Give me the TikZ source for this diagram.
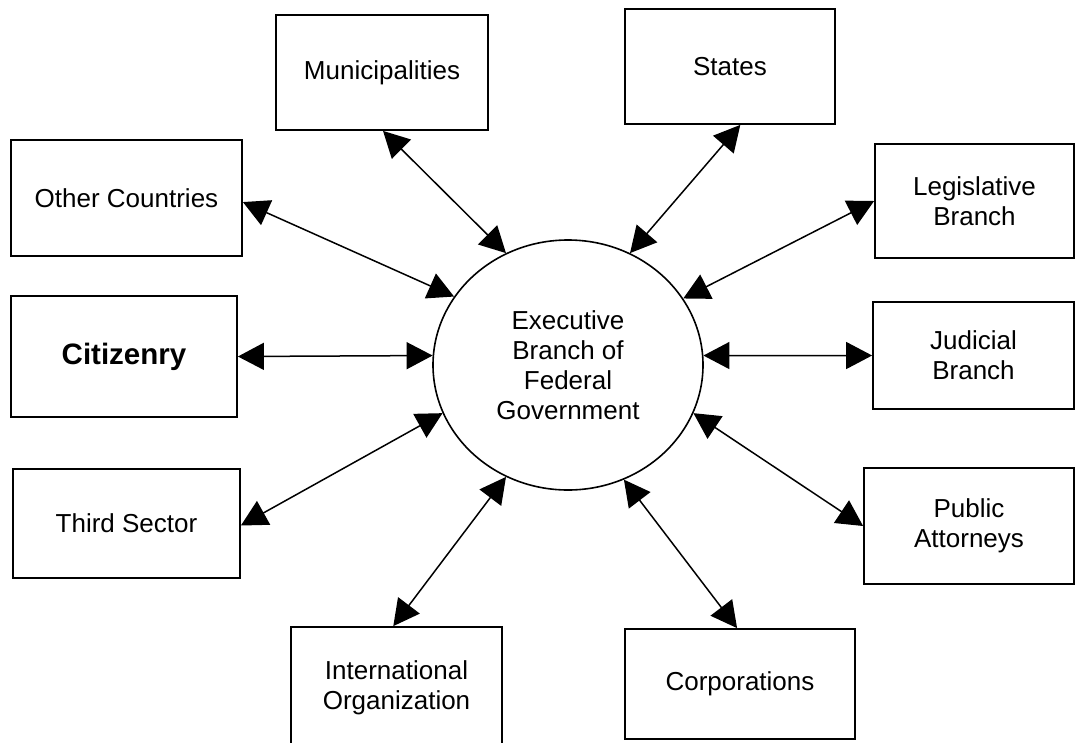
\documentclass[tikz,border=0pt]{standalone}
\usepackage{fontspec}
\setmainfont{Liberation Sans}
\usetikzlibrary{arrows.meta,shapes.geometric}
\begin{document}
\begin{tikzpicture}[x=1pt,y=-1pt,
  txt/.style={font=\fontsize{26pt}{30pt}\selectfont},
  box/.style={draw, line width=1.8pt, rectangle, inner sep=0pt, align=center, txt},
  center/.style={draw, ellipse, line width=1.6pt, inner sep=0pt, align=center, txt},
  conn/.style={line width=1.5pt, {Triangle[length=26pt,width=27pt]}-{Triangle[length=26pt,width=27pt]}}]
\useasboundingbox (0,0) rectangle (1075,742);
\clip (0,0) rectangle (1075,742);
\node[center, minimum width=270pt, minimum height=250pt] (exec) at (568,365) {Executive\\Branch of\\Federal\\Government};
\node[box, minimum width=212pt, minimum height=115pt] (muni) at (382,72.5) {Municipalities};
\node[box, minimum width=210pt, minimum height=115pt] (states) at (730,66.5) {States};
\node[box, minimum width=231pt, minimum height=116pt] (other) at (126.5,198) {Other Countries};
\node[box, minimum width=199pt, minimum height=114pt] (legis) at (974.5,201) {Legislative\\Branch};
\node[box, minimum width=201pt, minimum height=107pt] (jud) at (973.5,355.5) {Judicial\\Branch};
\node[box, minimum width=210pt, minimum height=116pt] (pub) at (969,526) {Public\\Attorneys};
\node[box, minimum width=226pt, minimum height=121pt, font=\fontsize{29.5pt}{34pt}\selectfont\bfseries] (cit) at (124,356.5) {Citizenry};
\node[box, minimum width=227pt, minimum height=109pt] (third) at (126.5,523.5) {Third Sector};
\node[box, minimum width=211pt, minimum height=121pt] (intl) at (396.5,687.5) {International\\Organization};
\node[box, minimum width=230pt, minimum height=110pt] (corp) at (740,684) {Corporations};
\draw[conn] (muni.-89) -- (exec.119.6);
\draw[conn] (other.-2.5) -- (exec.149.6);
\draw[conn] (states.-80) -- (exec.61.6);
\draw[conn] (legis.180) -- (exec.30.6);
\draw[conn] (jud.west) -- (exec.4);
\draw[conn] (cit.east) -- (exec.176.4);
\draw[conn] (third.-1.7) -- (exec.201);
\draw[conn] (pub.180) -- (exec.-21.2);
\draw[conn] (intl.93.3) -- (exec.-119.4);
\draw[conn] (corp.93) -- (exec.-64.7);
\end{tikzpicture}
\end{document}
